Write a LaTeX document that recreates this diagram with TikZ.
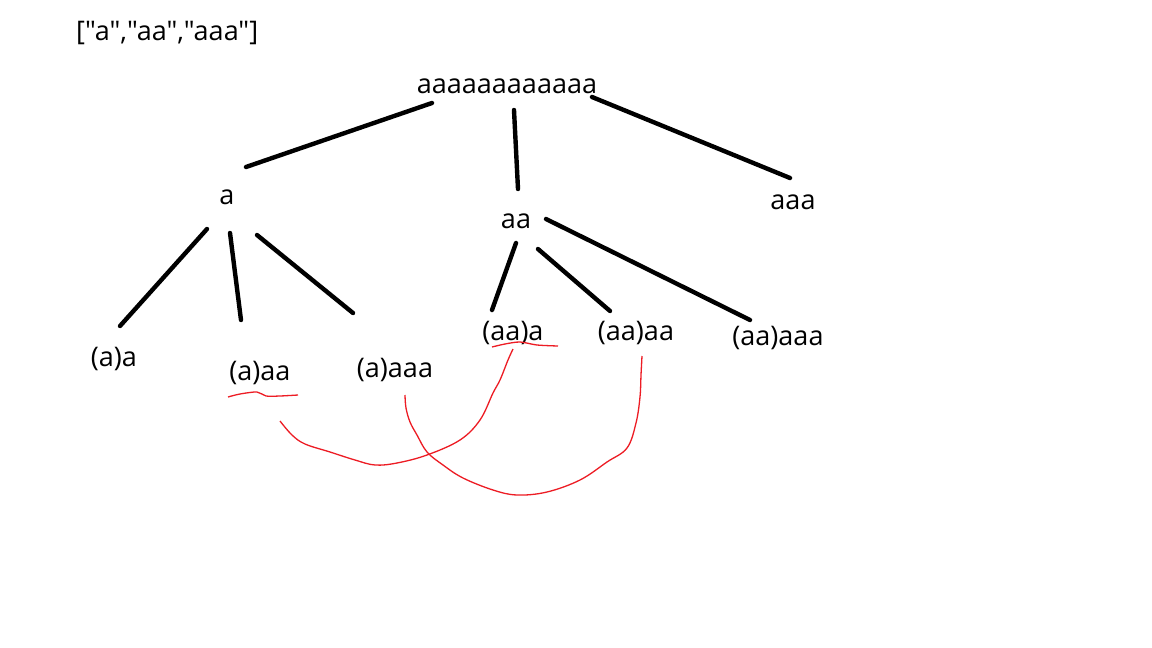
\documentclass[tikz,border=0pt]{standalone}
\usepackage{fontspec}
\setmainfont{Open Sans}[Ligatures=TeXOff]
\definecolor{pen}{RGB}{237,28,36}
\begin{document}
\begin{tikzpicture}[x=1pt,y=-1pt,
  lbl/.style={anchor=base,inner sep=0pt,font=\fontsize{27}{31}\selectfont},
  edge/.style={line width=4.4pt,line cap=round,black},
  redline/.style={draw=pen,line width=1.3pt}]
\useasboundingbox[fill=white] (0,0) rectangle (1152,648);
% texts
\node[lbl,anchor=base west] (list) at (76,40) {["a","aa","aaa"]};
\node[lbl] (root) at (507,93) {aaaaaaaaaaaa};
\node[lbl] (a) at (227,204) {a};
\node[lbl] (aa) at (516,228) {aa};
\node[lbl] (aaa) at (793,209) {aaa};
\node[lbl] (a1) at (114,366) {(a)a};
\node[lbl] (a2) at (260,380) {(a)aa};
\node[lbl] (a3) at (395,377) {(a)aaa};
\node[lbl] (b1) at (513,340) {(aa)a};
\node[lbl] (b2) at (636,340) {(aa)aa};
\node[lbl] (b3) at (778,345) {(aa)aaa};
% connector ends
\coordinate (r1) at (432,103); \coordinate (r1e) at (246,167);
\coordinate (r2) at (514,110); \coordinate (r2e) at (518,189);
\coordinate (r3) at (592,97);  \coordinate (r3e) at (790,178);
\coordinate (s1) at (207,229); \coordinate (s1e) at (120,326);
\coordinate (s2) at (230,233); \coordinate (s2e) at (241,320);
\coordinate (s3) at (257,235); \coordinate (s3e) at (353,313);
\coordinate (t1) at (516,243); \coordinate (t1e) at (492,310);
\coordinate (t2) at (538,249); \coordinate (t2e) at (610,311);
\coordinate (t3) at (546,219); \coordinate (t3e) at (750,320);
\draw[edge] (r1) -- (r1e);
\draw[edge] (r2) -- (r2e);
\draw[edge] (r3) -- (r3e);
\draw[edge] (s1) -- (s1e);
\draw[edge] (s2) -- (s2e);
\draw[edge] (s3) -- (s3e);
\draw[edge] (t1) -- (t1e);
\draw[edge] (t2) -- (t2e);
\draw[edge] (t3) -- (t3e);
% red marks
\draw[redline] plot[smooth,tension=0.5] coordinates {(228,397) (240,394) (257,392) (266,396) (280,396) (298,395)};
\draw[redline] plot[smooth,tension=0.5] coordinates {(492,347) (505,344) (520,342) (537,345) (558,346)};
\draw[redline] plot[smooth,tension=0.6] coordinates {(280,421) (292,435) (305,444) (330,452) (355,460) (375,465) (397,463) (427,455) (460,440) (480,420) (493,393) (500,380) (508,360) (513,349)};
\draw[redline] plot[smooth,tension=0.6] coordinates {(405,395) (406,408) (410,422) (417,435) (427,452) (443,465) (463,478) (493,490) (517,495) (547,492) (580,480) (607,462) (627,448) (636,423) (640,397) (641,375) (642,356)};
\end{tikzpicture}
\end{document}
